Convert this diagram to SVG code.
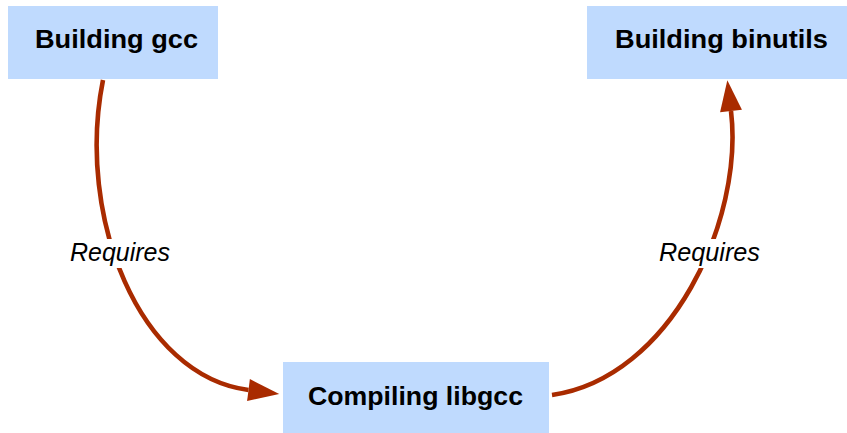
<svg xmlns="http://www.w3.org/2000/svg" width="847" height="433" viewBox="0 0 847 433">
<style>
.box{fill:#bfdafe}
.nt{font-family:"Liberation Sans",Arial,sans-serif;font-weight:bold;font-size:26.5px;fill:#000}
.lt{font-family:"Liberation Sans",Arial,sans-serif;font-style:italic;font-size:25.5px;fill:#000}
.edge{fill:none;stroke:#a92b00;stroke-width:4.6}
.lbg{fill:#fff}
</style>
<defs>
<marker id="ah" markerUnits="userSpaceOnUse" markerWidth="34" markerHeight="24" refX="0" refY="11" orient="auto" overflow="visible">
<path d="M0,0 L31,11 L0,22 z" fill="#a92b00"/>
</marker>
</defs>
<g id="connectors">
<path class="edge" d="M103,80 C75.6,217 139.4,376 248.5,390" marker-end="url(#ah)"/>
<path class="edge" d="M552,395 C671,378 744,220 731,111" marker-end="url(#ah)"/>
<g id="label1">
<rect class="lbg" x="67" y="239" width="108" height="29"/>
<text class="lt" x="70" y="261" textLength="100" lengthAdjust="spacingAndGlyphs">Requires</text>
</g>
<g id="label2">
<rect class="lbg" x="656" y="239" width="108" height="29"/>
<text class="lt" x="659" y="261" textLength="101" lengthAdjust="spacingAndGlyphs">Requires</text>
</g>
</g>
<g id="building-gcc">
<rect class="box" x="8" y="6" width="210" height="73"/>
<text class="nt" x="35" y="48" textLength="163" lengthAdjust="spacingAndGlyphs">Building gcc</text>
</g>
<g id="building-binutils">
<rect class="box" x="587" y="6" width="260" height="73"/>
<text class="nt" x="615" y="48" textLength="213" lengthAdjust="spacingAndGlyphs">Building binutils</text>
</g>
<g id="compiling-libgcc">
<rect class="box" x="283" y="362" width="266" height="73"/>
<text class="nt" x="308" y="404.5" textLength="215" lengthAdjust="spacingAndGlyphs">Compiling libgcc</text>
</g>
</svg>
